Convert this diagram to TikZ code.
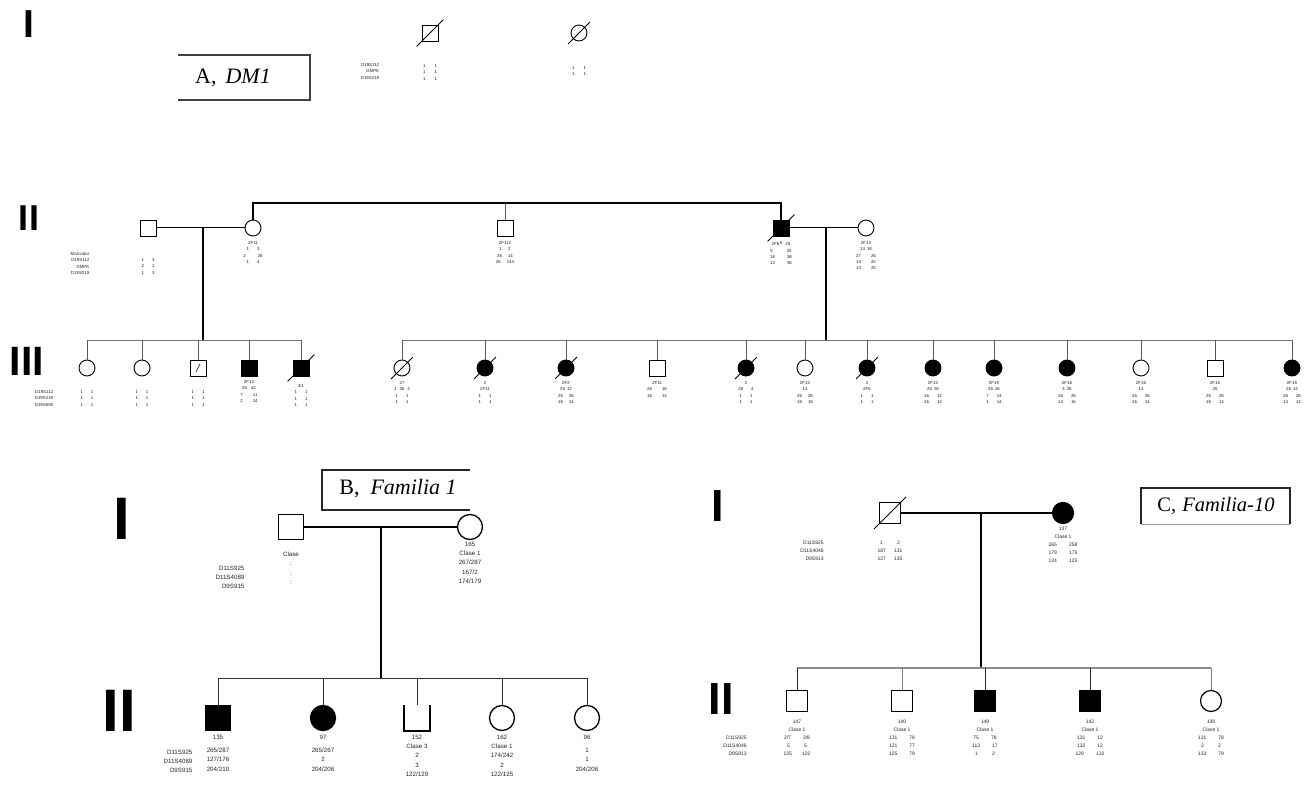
\documentclass[tikz,border=0pt]{standalone}
\usepackage{fontspec}
\setmainfont{Liberation Serif}
\setsansfont{Liberation Sans}
\newcommand\decsym[1]{\draw[line width=0.8pt] ([shift={(-5,5)}]#1.south west) -- ([shift={(5,-5)}]#1.north east);}
\tikzset{
  pl/.style={line width=1.4pt, black},
  sib/.style={line width=0.9pt, black!55},
  drop/.style={line width=0.9pt, black!65},
  male/.style={draw, rectangle, inner sep=0pt, line width=0.9pt},
  female/.style={draw, circle, inner sep=0pt, line width=0.9pt},
  aff/.style={fill=black},
  sA/.style={minimum size=16pt},
  sB/.style={minimum size=25pt, line width=1.3pt},
  sC/.style={minimum size=21pt, line width=1.2pt},
  labA/.style={font=\sffamily\fontsize{4.4}{6.4}\selectfont, align=center, inner sep=0pt, anchor=north, text=black!85},
  labB/.style={font=\sffamily\fontsize{6.2}{9.2}\selectfont, align=center, inner sep=0pt, anchor=north, text=black!85},
  labC/.style={font=\sffamily\fontsize{5}{8}\selectfont, align=center, inner sep=0pt, anchor=north, text=black!85},
  mk/.style={align=right, anchor=north},
  gen/.style={inner sep=0pt},
  tbox/.style={font=\fontsize{22}{24}\selectfont, inner sep=0pt}
}
\begin{document}
\begin{tikzpicture}[x=1pt,y=-1pt]
\fill[white] (0,0) rectangle (1307,786);
\path[use as bounding box] (0,0) rectangle (1307,786);

%================ Panel A =================
\node[gen, font=\sffamily\bfseries\fontsize{39}{39}\selectfont] (gA1) at (29,24) {I};
\node[gen, font=\sffamily\bfseries\fontsize{36}{36}\selectfont] (gA2) at (29,218) {II};
\node[gen, font=\sffamily\bfseries\fontsize{41}{41}\selectfont] (gA3) at (27,361) {III};

\draw[line width=1.3pt, black!75] (178,55) -- (310,55) -- (310,100) -- (178,100);
\node[tbox] (tA) at (233,78) {A,\hspace{9pt}\textit{DM1}};

% generation I
\node[male, sA] (a1) at (430,33) {};
\decsym{a1}
\node[female, sA] (a2) at (579,33) {};
\decsym{a2}
\node[labA, mk] (am) at (370,63) {D19S112\\DMPK\\D19S219};
\node[labA] (a1l) at (430,64) {1\hspace{9pt}1\\1\hspace{9pt}1\\1\hspace{9pt}1};
\node[labA] (a2l) at (579,66) {1\hspace{9pt}1\\1\hspace{9pt}1};

% generation II
\node[male, sA] (b1) at (148,228) {};
\node[female, sA] (b2) at (253,228) {};
\node[male, sA] (b3) at (505,228) {};
\node[male, sA, aff] (b4) at (781,228) {};
\decsym{b4}
\node[female, sA] (b5) at (866,228) {};
\coordinate (t) at (505,203);
\draw[pl] (b2.north) -- (b2.north |- t) -- (b4.north |- t) -- (b4.north);
\draw[drop, line width=0.6pt] (b3.north |- t) -- (b3.north);
\coordinate (m1) at (203,228);
\coordinate (s1) at (203,340);
\coordinate (m2) at (826,228);
\coordinate (s2) at (826,340);
\draw[pl, line width=1pt] (b1.east) -- (b2.west);
\draw[pl] (m1) -- (s1);
\draw[pl, line width=1pt] (b4.east) -- (b5.west);
\draw[pl] (m2) -- (s2);

\node[labA, mk] (bm) at (80,252) {Marcador\\D19S112\\DMPK\\D19S219};
\node[labA] (b1l) at (148,258) {1\hspace{8pt}3\\2\hspace{8pt}1\\1\hspace{8pt}3};
\node[labA] (b2l) at (253,241) {2F11\\1\hspace{8pt}3\\2\hspace{12pt}26\\1\hspace{8pt}4};
\node[labA] (b3l) at (505,241) {2F112\\1\hspace{6pt}2\\26\hspace{6pt}14\\26\hspace{6pt}144};
\node[labA] (b4l) at (781,241) {2F6\,\raisebox{1.5pt}{5}\hspace{3pt}25\\5\hspace{14pt}25\\16\hspace{12pt}38\\13\hspace{12pt}36};
\node[labA] (b5l) at (866,241) {2F13\\14\hspace{2pt}18\\27\hspace{10pt}26\\14\hspace{10pt}20\\13\hspace{10pt}20};

% generation III
\node[female, sA] (c1) at (87,368) {};
\node[female, sA] (c2) at (142,368) {};
\node[male, sA] (c3) at (198,368) {};
\node[male, sA, aff] (c4) at (249,368) {};
\node[male, sA, aff] (c5) at (301,368) {};
\decsym{c5}
\draw[line width=0.6pt] (c3.center) ++(-2,4) -- ++(4,-8);

\node[female, sA] (d1) at (402,368) {};
\decsym{d1}
\node[female, sA, aff] (d2) at (485,368) {};
\decsym{d2}
\node[female, sA, aff] (d3) at (566,368) {};
\decsym{d3}
\node[male, sA] (d4) at (657,368) {};
\node[female, sA, aff] (d5) at (746,368) {};
\decsym{d5}
\node[female, sA] (d6) at (805,368) {};
\node[female, sA, aff] (d7) at (867,368) {};
\decsym{d7}
\node[female, sA, aff] (d8) at (933,368) {};
\node[female, sA, aff] (d9) at (994,368) {};
\node[female, sA, aff] (d10) at (1067,368) {};
\node[female, sA] (d11) at (1141,368) {};
\node[male, sA] (d12) at (1215,368) {};
\node[female, sA, aff] (d13) at (1292,368) {};

\draw[sib] (c1.north |- s1) -- (c5.north |- s1);
\foreach \n in {c1,c2,c3,c4,c5} \draw[drop] (\n.north |- s1) -- (\n.north);
\draw[sib] (d1.north |- s2) -- (d13.north |- s2);
\foreach \n in {d1,d2,d3,d4,d5,d6,d7,d8,d9,d10,d11,d12,d13} \draw[drop] (\n.north |- s2) -- (\n.north);

\node[labA, mk] (cm) at (44,390) {D19S112\\D19S219\\D19S559};
\node[labA] (c1l) at (87,390) {1\hspace{8pt}1\\1\hspace{8pt}1\\1\hspace{8pt}1};
\node[labA] (c2l) at (142,390) {1\hspace{8pt}1\\1\hspace{8pt}1\\1\hspace{8pt}1};
\node[labA] (c3l) at (198,390) {1\hspace{8pt}1\\1\hspace{8pt}1\\1\hspace{8pt}1};
\node[labA] (c4l) at (249,380) {2F12\\26\hspace{4pt}42\\7\hspace{10pt}11\\2\hspace{10pt}14};
\node[labA] (c5l) at (301,384) {3/1\\1\hspace{8pt}1\\1\hspace{8pt}1\\1\hspace{8pt}1};
\node[labA] (d1l) at (402,381) {2?\\1\hspace{3pt}26\hspace{3pt}4\\1\hspace{8pt}1\\1\hspace{8pt}1};
\node[labA] (d2l) at (485,381) {2\\2F11\\1\hspace{8pt}1\\1\hspace{8pt}1};
\node[labA] (d3l) at (566,381) {2F2\\25\hspace{2pt}12\\26\hspace{6pt}26\\16\hspace{6pt}14};
\node[labA] (d4l) at (657,381) {2F11\\26\hspace{10pt}16\\16\hspace{10pt}14};
\node[labA] (d5l) at (746,381) {2\\26\hspace{8pt}4\\1\hspace{8pt}1\\1\hspace{8pt}1};
\node[labA] (d6l) at (805,381) {2F12\\14\\26\hspace{6pt}26\\16\hspace{6pt}16};
\node[labA] (d7l) at (867,381) {2\\2F6\\1\hspace{8pt}1\\1\hspace{8pt}1};
\node[labA] (d8l) at (933,381) {2F12\\26\hspace{2pt}26\\16\hspace{8pt}12\\16\hspace{8pt}12};
\node[labA] (d9l) at (994,381) {2F19\\26\hspace{2pt}26\\7\hspace{8pt}14\\1\hspace{8pt}14};
\node[labA] (d10l) at (1067,381) {2F16\\4\hspace{2pt}26\\26\hspace{8pt}26\\14\hspace{8pt}16};
\node[labA] (d11l) at (1141,381) {2F16\\14\\26\hspace{8pt}26\\16\hspace{8pt}14};
\node[labA] (d12l) at (1215,381) {2F16\\26\\26\hspace{8pt}26\\16\hspace{8pt}14};
\node[labA] (d13l) at (1292,381) {2F18\\26\hspace{2pt}14\\26\hspace{8pt}26\\14\hspace{8pt}14};

%================ Panel B =================
\node[gen, font=\sffamily\bfseries\fontsize{60}{60}\selectfont] (gB1) at (122,519) {I};
\node[gen, font=\sffamily\bfseries\fontsize{60}{60}\selectfont] (gB2) at (119,711) {II};

\draw[line width=1.3pt, black!85] (470,470) -- (322,470) -- (322,510) -- (470,510);
\node[tbox] (tB) at (398,489) {B,\hspace{11pt}\textit{Familia 1}};

\node[male, sB] (e1) at (291,527) {};
\node[female, sB] (e2) at (470,527) {};
\coordinate (m3) at (381,527);
\coordinate (s3) at (381,678);
\draw[pl] (e1.east) -- (e2.west);
\draw[pl] (m3) -- (s3);

\node[male, sB, aff] (f1) at (218,718) {};
\node[female, sB, aff] (f2) at (323,718) {};
\node[male, sB, draw=none] (f3) at (417,718) {};
\draw[line width=1.8pt] (f3.north west) -- (f3.south west) -- (f3.south east) -- (f3.north east);
\node[female, sB] (f4) at (502,718) {};
\node[female, sB] (f5) at (587,718) {};
\draw[sib, black!80] (f1.north |- s3) -- (f5.north |- s3);
\foreach \n in {f1,f2,f3,f4,f5} \draw[drop, black!80] (\n.north |- s3) -- (\n.north);

\node[labB, mk] (em) at (230,566) {D11S925\\D11S4089\\D9S915};
\node[labB] (e1l) at (291,552) {Clase\\:\\:\\:};
\node[labB] (e2l) at (470,542) {165\\Clase 1\\267/287\\167/2\\174/179};
\node[labB, mk] (fm) at (178,750) {D11S925\\D11S4089\\D9S915};
\node[labB] (f1l) at (218,735) {135\\[4pt]265/287\\127/176\\204/210};
\node[labB] (f2l) at (323,735) {97\\[4pt]265/267\\2\\204/206};
\node[labB] (f3l) at (417,735) {152\\Clase 3\\2\\3\\122/129};
\node[labB] (f4l) at (502,735) {162\\Clase 1\\174/242\\2\\122/125};
\node[labB] (f5l) at (587,735) {96\\[4pt]1\\1\\204/206};

%================ Panel C =================
\node[gen, font=\sffamily\bfseries\fontsize{45}{45}\selectfont] (gC1) at (718,506) {I};
\node[gen, font=\sffamily\bfseries\fontsize{45}{45}\selectfont] (gC2) at (721,699) {II};

\draw[line width=1.2pt, black!85] (1141,524) -- (1141,488) -- (1290,488) -- (1290,524);
\draw[line width=0.6pt, black!40] (1141,524) -- (1290,524);
\node[tbox, font=\fontsize{20.5}{22}\selectfont] (tC) at (1216,506) {C,\hspace{6pt}\textit{Familia-10}};

\node[male, sC] (g1) at (890,513) {};
\decsym{g1}
\node[female, sC, aff] (g2) at (1063,513) {};
\coordinate (m4) at (981,513);
\coordinate (s4) at (981,668);
\draw[pl] (g1.east) -- (g2.west);
\draw[pl] (m4) -- (s4);

\node[male, sC] (h1) at (797,701) {};
\node[male, sC] (h2) at (902,701) {};
\node[male, sC, aff] (h3) at (985,701) {};
\node[male, sC, aff] (h4) at (1090,701) {};
\node[female, sC] (h5) at (1211,701) {};
\draw[sib, black!45, line width=1.2pt] (h1.north |- s4) -- (h5.north |- s4);
\foreach \n in {h1,h3,h4} \draw[drop, black!85] (\n.north |- s4) -- (\n.north);
\foreach \n in {h2,h5} \draw[drop, black!50] (\n.north |- s4) -- (\n.north);

\node[labC, mk] (gm) at (812,541) {D11S925\\D11S4046\\D9S913};
\node[labC] (g1l) at (890,541) {1\hspace{14pt}2\\187\hspace{8pt}131\\127\hspace{8pt}135};
\node[labC] (g2l) at (1063,527) {137\\Clase 1\\265\hspace{12pt}258\\179\hspace{12pt}175\\124\hspace{12pt}125};
\node[labC, mk] (hm) at (735,736) {D11S925\\D11S4046\\D9S913};
\node[labC] (h1l) at (797,720) {147\\Clase 1\\2/7\hspace{12pt}2/8\\5\hspace{14pt}5\\125\hspace{10pt}122};
\node[labC] (h2l) at (902,720) {140\\Clase 1\\131\hspace{12pt}78\\121\hspace{12pt}77\\125\hspace{12pt}79};
\node[labC] (h3l) at (985,720) {149\\Clase 1\\75\hspace{12pt}78\\113\hspace{12pt}17\\1\hspace{14pt}2};
\node[labC] (h4l) at (1090,720) {142\\Clase 1\\131\hspace{12pt}12\\132\hspace{12pt}12\\129\hspace{12pt}132};
\node[labC] (h5l) at (1211,720) {139\\Clase 1\\131\hspace{12pt}78\\2\hspace{14pt}2\\133\hspace{12pt}79};

\end{tikzpicture}
\end{document}
